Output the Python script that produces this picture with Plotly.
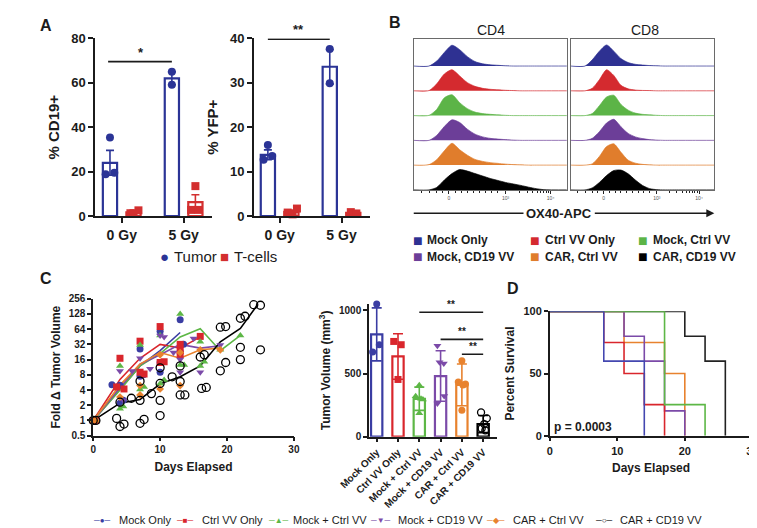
import plotly.graph_objects as go

W, H = 757, 528
FONT = "Liberation Sans, Arial, sans-serif"
INK = "#1b1b1b"

BLUE = "#2E3192"
RED = "#D42A2F"
GREEN = "#5CB447"
PURPLE = "#6C3E98"
ORANGE = "#E07D2C"
BLACK = "#000000"
GROUP_COLORS = [BLUE, RED, GREEN, PURPLE, ORANGE, BLACK]

# ---------------- Panel A data ----------------
a_categories = ["0 Gy", "5 Gy"]
a_legend_labels = ["Tumor", "T-cells"]
a1_title = "% CD19+"
a1_tumor_mean = [24.0, 62.0]
a1_tumor_sem = [5.6, 2.9]
a1_tumor_pts = [[35.4, 18.8, 19.5], [65.0, 59.1]]
a1_tcell_mean = [1.7, 6.3]
a1_tcell_sem = [0.5, 3.3]
a1_tcell_pts = [[1.3, 1.3, 2.6], [13.5, 2.8, 2.8]]

a2_title = "% YFP+"
a2_tumor_mean = [13.8, 33.6]
a2_tumor_sem = [1.1, 3.9]
a2_tumor_pts = [[16.0, 12.7, 13.5], [37.6, 29.9]]
a2_tcell_mean = [0.95, 0.75]
a2_tcell_sem = [0.4, 0.15]
a2_tcell_pts = [[0.8, 0.4, 1.7], [0.9, 0.6]]

# ---------------- Panel B data (histograms, fraction of row height) ----------------
b_samples = ["Mock Only", "Ctrl VV Only", "Mock, Ctrl VV",
             "Mock, CD19 VV", "CAR, Ctrl VV", "CAR, CD19 VV"]
b_panels = ["CD4", "CD8"]
b_axis_label = "OX40-APC"
hist_u = [0, 10, 15, 20, 25, 30, 35, 40, 45, 50, 55, 60, 65, 70, 75, 80, 85, 100]
cd4_hist = [
    [0, 0, 0.20, 0.55, 0.84, 0.66, 0.38, 0.18, 0.09, 0.05, 0.03, 0.01, 0, 0, 0, 0, 0, 0],
    [0, 0.01, 0.28, 0.68, 0.85, 0.60, 0.33, 0.18, 0.10, 0.06, 0.04, 0.02, 0.01, 0, 0, 0, 0, 0],
    [0, 0.01, 0.25, 0.72, 0.84, 0.52, 0.28, 0.14, 0.08, 0.05, 0.03, 0.01, 0, 0, 0, 0, 0, 0],
    [0, 0, 0.20, 0.56, 0.83, 0.72, 0.45, 0.25, 0.14, 0.08, 0.05, 0.03, 0.01, 0, 0, 0, 0, 0],
    [0, 0.02, 0.22, 0.58, 0.88, 0.62, 0.40, 0.23, 0.15, 0.10, 0.07, 0.04, 0.02, 0.01, 0, 0, 0, 0],
    [0, 0, 0.10, 0.40, 0.66, 0.82, 0.76, 0.66, 0.56, 0.46, 0.38, 0.30, 0.24, 0.18, 0.11, 0.05, 0.01, 0],
]
cd8_hist = [
    [0, 0, 0.25, 0.60, 0.85, 0.60, 0.30, 0.14, 0.07, 0.04, 0.02, 0.01, 0, 0, 0, 0, 0, 0],
    [0, 0, 0.10, 0.45, 0.85, 0.62, 0.22, 0.08, 0.03, 0.015, 0.01, 0, 0, 0, 0, 0, 0, 0],
    [0, 0, 0.08, 0.40, 0.75, 0.82, 0.45, 0.22, 0.10, 0.05, 0.03, 0.01, 0, 0, 0, 0, 0, 0],
    [0, 0, 0.08, 0.35, 0.70, 0.85, 0.55, 0.28, 0.14, 0.07, 0.03, 0.01, 0, 0, 0, 0, 0, 0],
    [0, 0, 0.05, 0.35, 0.75, 0.86, 0.52, 0.20, 0.08, 0.03, 0.01, 0, 0, 0, 0, 0, 0, 0],
    [0, 0, 0.08, 0.30, 0.58, 0.78, 0.80, 0.65, 0.40, 0.18, 0.05, 0.01, 0, 0, 0, 0, 0, 0],
]
b_tick_pos = [23, 60, 89.4]
b_tick_text = ["0", "10³", "10⁴"]

# ---------------- Panel C data ----------------
c_groups = ["Mock Only", "Ctrl VV Only", "Mock + Ctrl VV",
            "Mock + CD19 VV", "CAR + Ctrl VV", "CAR + CD19 VV"]
c_days = [
    [0, 0.4, 2.8, 4, 4, 4.5, 7, 7, 7.5, 10, 10, 10, 13, 13, 13.5],
    [0, 0.4, 3.5, 4, 4.6, 7, 7, 7.6, 10, 10, 10.6, 13, 13, 13, 16],
    [0, 0.4, 4, 4, 4.5, 7, 7, 7.6, 10, 10, 10.6, 13, 13, 13.6, 16, 16, 16.6, 19, 22],
    [0, 0.4, 4, 4.5, 5.8, 7, 8.5, 10, 10.6, 12, 13, 13, 15, 16, 19],
    [0, 0.4, 4, 7, 7, 10, 10, 13, 13, 16, 19],
    [0, 0.4, 3.5, 4, 4.6, 4, 5.7, 7, 7, 7.6, 7, 8.7, 10, 10, 10, 10, 11.8, 13, 13, 13.7, 13,
     16.2, 16.9, 16, 16.6, 19, 19.8, 19, 19.8, 22, 22, 22, 22.7, 25, 24, 25],
]
c_fold = [
    [1, 1, 5.1, 5.0, 2.2, 2.5, 26, 7.5, 8, 58, 14, 9, 98, 23, 32],
    [1, 1, 4.6, 17, 4.2, 37, 9, 8.3, 72, 14, 14.5, 32, 24, 20, 46],
    [1, 1, 12, 1.7, 1.9, 31, 4.1, 4.6, 48, 5.3, 6.3, 128, 12.5, 12.5, 36, 12, 14.5, 25, 48],
    [1, 1, 9.5, 2.5, 9.5, 17, 10.5, 48, 45, 22, 16, 9, 42, 9, 31],
    [1, 1, 2.9, 4.9, 3.2, 4.2, 20, 4.9, 22, 25, 25],
    [1, 1, 1.1, 0.76, 0.85, 2.3, 2.75, 0.88, 2.5, 1.05, 6, 3.4, 1.25, 2.5, 5.4, 11, 7.3, 5.9,
     3.2, 3.2, 12, 4.3, 4.5, 18, 20, 9.6, 14, 70, 72, 16, 28, 105, 115, 25, 195, 190],
]
c_mean_days = [
    [0, 4, 7, 10, 13],
    [0, 4, 7, 10, 13, 16],
    [0, 4, 7, 10, 13, 16, 19, 22],
    [0, 4, 7, 10, 13, 16, 19],
    [0, 4, 7, 10, 13, 16, 19],
    [0, 4, 7, 10, 13, 16, 19, 22, 24.5],
]
c_mean_fold = [
    [1, 4.2, 12, 24, 55],
    [1, 6.5, 17, 32, 27, 45],
    [1, 4, 12, 21, 45, 65, 24, 48],
    [1, 4.5, 13, 20, 32, 27, 30],
    [1, 5, 13, 22, 17, 25, 27],
    [1, 2.2, 2.6, 5.3, 7.3, 12, 36, 66, 190],
]
c_fold_ticks = [0.5, 1, 2, 4, 8, 16, 32, 64, 128, 256]

cbar_mean = [810, 635, 300, 480, 410, 100]
cbar_sd = [210, 180, 92, 200, 165, 68]
cbar_pts = [
    [1050, 671, 728],
    [754, 728, 453],
    [408, 320, 295, 300, 185],
    [720, 590, 580, 323, 262],
    [602, 433, 418, 410, 210],
    [192, 145, 100, 65, 50],
]
cbar_jit = [
    [0, -0.19, 0.12],
    [-0.2, 0.15, 0],
    [0, -0.17, 0.17, 0.08, 0],
    [-0.15, -0.05, 0.15, 0.17, -0.15],
    [0, -0.17, 0.17, 0.05, 0],
    [-0.1, 0.17, 0.05, -0.07, 0.1],
]
cbar_sig = [(2, 5, 985), (3, 5, 770), (4, 5, 652)]

# ---------------- Panel D data ----------------
surv_days = [
    [0, 8, 14],
    [0, 8, 11, 14, 17],
    [0, 17, 23],
    [0, 11, 14, 17, 20],
    [0, 11, 17, 20],
    [0, 20, 23, 26],
]
surv_pct = [
    [100, 60, 0],
    [100, 75, 50, 25, 0],
    [100, 25, 0],
    [100, 80, 60, 20, 0],
    [100, 75, 50, 0],
    [100, 80, 60, 0],
]
d_pvalue = "p = 0.0003"

# ---------------- helpers ----------------
def xd(a, b):
    return [a / W, b / W]

def yd(top, bottom):
    return [1 - bottom / H, 1 - top / H]

def tf(size, bold=True, color=INK, family=FONT):
    return dict(family=family, size=size, color=color, weight="bold" if bold else "normal")

def axis(domain, rng, anchor, **kw):
    d = dict(domain=domain, range=rng, anchor=anchor, showline=True, linecolor=INK,
             linewidth=1.6, ticks="outside", ticklen=5, tickwidth=1.6, tickcolor=INK,
             showgrid=False, zeroline=False, fixedrange=True, tickfont=tf(12))
    d.update(kw)
    return d

fig = go.Figure()
annotations = []
shapes = []

def note(x, y, text, size=12, bold=True, color=INK, xanchor="center", yanchor="middle",
         family=FONT, **kw):
    d = dict(x=x / W, y=1 - y / H, xref="paper", yref="paper", text=text, showarrow=False,
             font=tf(size, bold, color, family), xanchor=xanchor, yanchor=yanchor)
    d.update(kw)
    annotations.append(d)

# ---------------- Panel A ----------------
A_OFF, A_W = 0.19, 0.23
A_BLUE, A_RED = "#2B3496", "#D32F2F"

def panel_a(xa, ya, t_mean, t_sem, t_pts, c_mean, c_sem, c_pts, t_jit, c_jit):
    for mean, sem, color, off in [(t_mean, t_sem, A_BLUE, -A_OFF), (c_mean, c_sem, A_RED, A_OFF)]:
        fig.add_trace(go.Bar(
            x=[i + off for i in range(len(mean))], y=mean, width=A_W,
            marker=dict(color="white", line=dict(color=color, width=2.2)),
            error_y=dict(type="data", array=sem, color=color, thickness=1.6, width=4),
            xaxis=xa, yaxis=ya, showlegend=False, hoverinfo="skip"))
    for pts, jit, color, off, sym in [(t_pts, t_jit, A_BLUE, -A_OFF, "circle"),
                                      (c_pts, c_jit, A_RED, A_OFF, "square")]:
        xs, ys = [], []
        for i, (vals, js) in enumerate(zip(pts, jit)):
            for v, j in zip(vals, js):
                xs.append(i + off + j)
                ys.append(v)
        fig.add_trace(go.Scatter(x=xs, y=ys, mode="markers", cliponaxis=False,
                                 marker=dict(symbol=sym, size=8, color=color),
                                 xaxis=xa, yaxis=ya, showlegend=False, hoverinfo="skip"))

panel_a("x", "y", a1_tumor_mean, a1_tumor_sem, a1_tumor_pts, a1_tcell_mean, a1_tcell_sem,
        a1_tcell_pts, [[0, -0.07, 0.07], [0, 0]], [[-0.05, 0.0, 0.08], [0, -0.07, 0.05]])
panel_a("x2", "y2", a2_tumor_mean, a2_tumor_sem, a2_tumor_pts, a2_tcell_mean, a2_tcell_sem,
        a2_tcell_pts, [[0, -0.07, 0.07], [0, 0]], [[-0.06, 0.02, 0.09], [-0.04, 0.05]])

shapes.append(dict(type="line", xref="x", yref="y", x0=-A_OFF - 0.03, x1=1 - A_OFF,
                   y0=69.5, y1=69.5, line=dict(color=INK, width=1.6)))
annotations.append(dict(x=0.31, y=69.5, xref="x", yref="y", text="*", showarrow=False,
                        font=tf(13), yanchor="bottom"))
shapes.append(dict(type="line", xref="x2", yref="y2", x0=-A_OFF, x1=1 - A_OFF,
                   y0=39.8, y1=39.8, line=dict(color=INK, width=1.6)))
annotations.append(dict(x=0.31, y=39.8, xref="x2", yref="y2", text="**", showarrow=False,
                        font=tf(13), yanchor="bottom"))

# legend for A
note(132, 249, "●", size=15, bold=False, color=A_BLUE)
note(140, 249, a_legend_labels[0], size=15, bold=False, xanchor="left")
note(195, 249, "■", size=15, bold=False, color=A_RED)
note(203, 249, a_legend_labels[1], size=15, bold=False, xanchor="left")

# ---------------- Panel B ----------------
minor_b = [5, 10, 15, 19, 27, 31, 35, 39, 43, 47, 51, 55] + \
          [60 + 29.4 * v for v in [0.301, 0.477, 0.602, 0.699, 0.778, 0.845, 0.903, 0.954]]
for hists, xa, ya in [(cd4_hist, "x3", "y3"), (cd8_hist, "x4", "y4")]:
    for k, (h, color) in enumerate(zip(hists, GROUP_COLORS)):
        row = 5 - k
        fig.add_trace(go.Scatter(x=[hist_u[0], hist_u[-1]], y=[row, row], mode="lines",
                                 line=dict(width=0, color=color), xaxis=xa, yaxis=ya,
                                 showlegend=False, hoverinfo="skip"))
        fig.add_trace(go.Scatter(x=hist_u, y=[row + v for v in h], mode="lines",
                                 line=dict(color=color, width=0.7, shape="spline", smoothing=0.7),
                                 fill="tonexty", fillcolor=color, xaxis=xa, yaxis=ya,
                                 showlegend=False, hoverinfo="skip"))

b_axis_kw = dict(linecolor="#6a6a6a", linewidth=1, mirror=True, ticks="outside", ticklen=3,
                 tickwidth=1, tickcolor="#222", tickfont=tf(5, False, "#555"))
bx_kw = dict(b_axis_kw, tickvals=b_tick_pos, ticktext=b_tick_text,
             minor=dict(tickvals=minor_b, ticks="outside", ticklen=2, tickcolor="#222"))
by_kw = dict(b_axis_kw, showticklabels=False, ticks="")

# ---------------- Panel C (scatter) ----------------
c_symbols = ["circle", "square", "triangle-up", "triangle-down", "diamond", "circle-open"]
c_sizes = [7, 7, 7, 7, 6, 8]
c_colors = ["#3A3DA3", "#D9262C", "#5DB746", "#7B4AA8", "#E8822E", BLACK]
for days, vals, color in zip(c_mean_days, c_mean_fold, c_colors):
    fig.add_trace(go.Scatter(x=days, y=vals, mode="lines", line=dict(color=color, width=1.6),
                             xaxis="x5", yaxis="y5", showlegend=False, hoverinfo="skip"))
for days, vals, color, sym, sz in zip(c_days, c_fold, c_colors, c_symbols, c_sizes):
    mk = dict(symbol=sym, size=sz, color=color)
    if sym == "circle-open":
        mk["line"] = dict(color=color, width=1.3)
    fig.add_trace(go.Scatter(x=days, y=vals, mode="markers", marker=mk, cliponaxis=False,
                             xaxis="x5", yaxis="y5", showlegend=False, hoverinfo="skip"))

# ---------------- Panel C (bars) ----------------
bar_symbols = ["circle", "square", "triangle-up", "triangle-down", "circle", "circle-open"]
for i, (m, sd, color) in enumerate(zip(cbar_mean, cbar_sd, c_colors)):
    fig.add_trace(go.Bar(x=[i], y=[m], width=0.53,
                         marker=dict(color="white", line=dict(color=color, width=2.2)),
                         error_y=dict(type="data", array=[sd], color=color, thickness=1.6, width=5),
                         xaxis="x6", yaxis="y6", showlegend=False, hoverinfo="skip"))
for i, (pts, jit, color, sym) in enumerate(zip(cbar_pts, cbar_jit, c_colors, bar_symbols)):
    mk = dict(symbol=sym, size=7, color=color)
    if sym == "circle-open":
        mk["line"] = dict(color=color, width=1.3)
    fig.add_trace(go.Scatter(x=[i + j for j in jit], y=pts, mode="markers", marker=mk,
                             cliponaxis=False, xaxis="x6", yaxis="y6", showlegend=False,
                             hoverinfo="skip"))
for a, b, yv in cbar_sig:
    shapes.append(dict(type="line", xref="x6", yref="y6", x0=a, x1=b, y0=yv, y1=yv,
                       line=dict(color=INK, width=1.6)))
    annotations.append(dict(x=(a + b) / 2, y=yv, xref="x6", yref="y6", text="**",
                            showarrow=False, font=tf(10), yanchor="bottom"))

# ---------------- Panel D ----------------
d_colors = ["#4447B0", "#D9262C", "#5DB746", "#7B4AA8", "#E8822E", "#222222"]
for idx in [5, 4, 3, 1, 2, 0]:
    fig.add_trace(go.Scatter(x=surv_days[idx], y=surv_pct[idx], mode="lines",
                             line=dict(color=d_colors[idx], width=1.6, shape="hv"),
                             cliponaxis=False, xaxis="x7", yaxis="y7", showlegend=False,
                             hoverinfo="skip"))
annotations.append(dict(x=0.35, y=7, xref="x7", yref="y7", text=d_pvalue, showarrow=False,
                        font=tf(12), xanchor="left", yanchor="middle"))

# ---------------- text annotations (labels, legends) ----------------
note(7.5, 11, "A", size=16)
note(374, 8, "B", size=16)
note(7, 271, "C", size=16)
note(498, 282, "D", size=16)
note(475, 15, b_panels[0], size=14, bold=False)
note(637, 15, b_panels[1], size=14, bold=False)

# OX40 axis label with arrow (line on the left, arrow from label to the right)
shapes.append(dict(type="line", xref="paper", yref="paper", x0=394 / W, x1=555 / W,
                   y0=1 - 204 / H, y1=1 - 204 / H, line=dict(color=INK, width=1.6)))
annotations.append(dict(x=710 / W, y=1 - 204 / H, xref="paper", yref="paper",
                        text=b_axis_label, font=tf(13), bgcolor="white", borderpad=2,
                        showarrow=True, ax=-155, ay=0, axref="pixel", ayref="pixel",
                        arrowhead=2, arrowsize=1, arrowwidth=1.6, arrowcolor=INK,
                        standoff=0, startstandoff=0))

# B legend
b_sq_x = [398, 522, 635.5]
b_tx_x = [406, 530, 643]
b_rows_y = [232, 249]
for k, (name, color) in enumerate(zip(b_samples, GROUP_COLORS)):
    r, c = divmod(k, 3)
    note(b_sq_x[c], b_rows_y[r], "■", size=16, bold=False, color=color)
    note(b_tx_x[c], b_rows_y[r], name, size=12, xanchor="left")

# bottom legend
c_leg_glyph = ["●", "■", "▲", "▼", "◆", "○"]
c_leg_mx = [66, 154, 252, 359, 480, 594]
c_leg_tx = [83, 170, 266, 376, 497, 610]
for name, color, g, mx, tx in zip(c_groups, c_colors, c_leg_glyph, c_leg_mx, c_leg_tx):
    note(mx, 520, "─" + g + "─", size=8, bold=False, color=color, borderpad=0)
    note(tx, 520, name, size=11, bold=False, xanchor="left", borderpad=0)

# ---------------- layout ----------------
fig.update_layout(
    width=W, height=H, margin=dict(l=0, r=0, t=0, b=0),
    paper_bgcolor="white", plot_bgcolor="rgba(0,0,0,0)",
    barmode="overlay", showlegend=False,
    font=dict(family=FONT, color=INK),
    annotations=annotations, shapes=shapes,
    xaxis=axis(xd(59, 182), [-0.43, 1.46], "y", tickvals=[0, 1], ticktext=a_categories,
               tickfont=tf(14)),
    yaxis=axis(yd(24, 207), [0, 80], "x", tickvals=[0, 20, 40, 60, 80], tickfont=tf(13),
               title=dict(text=a1_title, font=tf(15), standoff=8)),
    xaxis2=axis(xd(226, 348), [-0.415, 1.46], "y2", tickvals=[0, 1], ticktext=a_categories,
                tickfont=tf(14)),
    yaxis2=axis(yd(24, 207), [0, 40], "x2", tickvals=[0, 10, 20, 30, 40], tickfont=tf(13),
                title=dict(text=a2_title, font=tf(15), standoff=8)),
    xaxis3=axis(xd(394, 555), [0, 100], "y3", **bx_kw),
    yaxis3=axis(yd(25, 180), [0, 6.08], "x3", **by_kw),
    xaxis4=axis(xd(559, 710), [0, 100], "y4", **bx_kw),
    yaxis4=axis(yd(25, 180), [0, 6.08], "x4", **by_kw),
    xaxis5=axis(xd(57, 268), [0, 30], "y5", tickvals=[0, 10, 20, 30], tickfont=tf(10), ticklen=4,
                title=dict(text="Days Elapsed", font=tf(12), standoff=8)),
    yaxis5=axis(yd(292, 433), [-0.30103, 2.40824], "x5", type="log", tickvals=c_fold_ticks,
                ticktext=[str(v) for v in c_fold_ticks], tickfont=tf(10), ticklen=4,
                title=dict(text="Fold Δ Tumor Volume", font=tf(12), standoff=6)),
    xaxis6=axis(xd(347, 482), [-0.36, 5.67], "y6", tickvals=list(range(6)), ticktext=c_groups,
                tickangle=-45, tickfont=tf(10), ticklen=4),
    yaxis6=axis(yd(297.5, 434), [0, 1050], "x6", tickvals=[0, 500, 1000], tickfont=tf(10),
                ticklen=4, title=dict(text="Tumor Volume (mm<sup>3</sup>)", font=tf(12), standoff=6)),
    xaxis7=axis(xd(537, 750), [0, 30], "y7", tickvals=[0, 10, 20, 30], tickfont=tf(11), ticklen=4,
                title=dict(text="Days Elapsed", font=tf(12), standoff=8)),
    yaxis7=axis(yd(305, 433), [0, 100], "x7", tickvals=[0, 50, 100], tickfont=tf(11), ticklen=4,
                title=dict(text="Percent Survival", font=tf(12), standoff=6)),
)

fig.write_html("out.html")
